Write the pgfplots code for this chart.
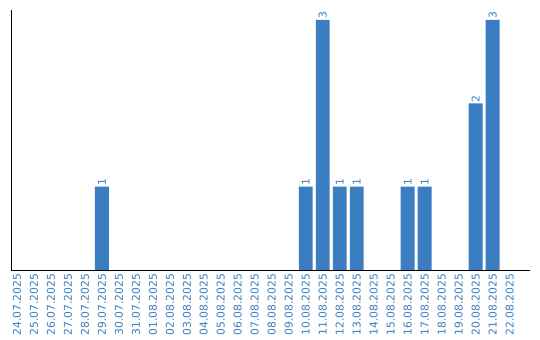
\documentclass[border=0pt]{standalone}
\usepackage{fontspec}
\setmainfont{DejaVu Sans}
\usepackage{pgfplots}
\pgfplotsset{compat=1.18}
\definecolor{barblue}{HTML}{3A7EC1}
\definecolor{lblblue}{HTML}{3C7DC3}
\begin{document}
\begin{tikzpicture}
\useasboundingbox (-11bp,-70bp) rectangle (529bp,270bp);
\begin{axis}[
  at={(0,0)}, anchor=south west,
  scale only axis, width=519bp, height=260bp,
  xmin=-0.35, xmax=30.2, ymin=0, ymax=3.12,
  axis x line=bottom, axis y line=left,
  axis line style={-, black, line width=1bp},
  ytick=\empty,
  xtick={0,...,29},
  xticklabels={24.07.2025,25.07.2025,26.07.2025,27.07.2025,28.07.2025,29.07.2025,30.07.2025,31.07.2025,01.08.2025,02.08.2025,03.08.2025,04.08.2025,05.08.2025,06.08.2025,07.08.2025,08.08.2025,09.08.2025,10.08.2025,11.08.2025,12.08.2025,13.08.2025,14.08.2025,15.08.2025,16.08.2025,17.08.2025,18.08.2025,19.08.2025,20.08.2025,21.08.2025,22.08.2025},
  x tick label style={rotate=90, anchor=east, font=\fontsize{10.8}{11}\selectfont, text=lblblue, inner sep=0bp, xshift=-3.5bp},
  major tick length=0pt,
  ybar, bar width=0.82,
  nodes near coords,
  every node near coord/.append style={rotate=90, anchor=west, font=\fontsize{10.8}{11}\selectfont, text=lblblue, inner sep=1bp},
  /pgf/number format/assume math mode=true,
]
\addplot[fill=barblue, draw=none] coordinates {
(5,1) (17,1) (18,3) (19,1) (20,1) (23,1) (24,1) (27,2) (28,3)
};
\end{axis}
\end{tikzpicture}
\end{document}
